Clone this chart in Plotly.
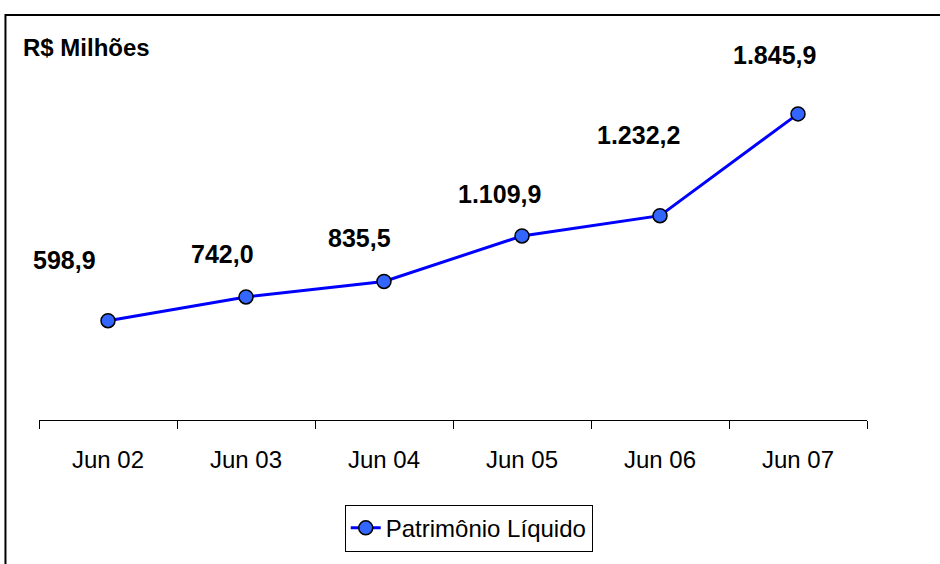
import plotly.graph_objects as go

# Data
periods = ['Jun 02', 'Jun 03', 'Jun 04', 'Jun 05', 'Jun 06', 'Jun 07']
patrimonio = [598.9, 742.0, 835.5, 1109.9, 1232.2, 1845.9]

# label offsets in pixels (labels were placed by hand in the original)
label_dx = [-44, -24, -25, -23, -22, -24]
label_dy = [61, 43, 43, 42, 81, 59]


def fmt_br(v):
    # 1,845.9 -> 1.845,9
    return f"{v:,.1f}".replace(',', '_').replace('.', ',').replace('_', '.')


font_main = 'Liberation Sans, Arial, sans-serif'

fig = go.Figure()

fig.add_trace(go.Scatter(
    x=periods, y=patrimonio, mode='lines+markers', name='Patrimônio Líquido',
    line=dict(color='#0000FF', width=3),
    marker=dict(size=14, color='#3366FF', line=dict(color='black', width=1.5)),
))

for p, v, dx, dy in zip(periods, patrimonio, label_dx, label_dy):
    fig.add_annotation(x=p, y=v, text='<b>' + fmt_br(v) + '</b>', showarrow=False,
                       xshift=dx, yshift=dy,
                       font=dict(family=font_main, size=25, color='black'))

fig.add_annotation(xref='paper', yref='paper', x=-0.022, y=0.935, xanchor='left', yanchor='middle',
                   text='<b>R$ Milhões</b>', showarrow=False,
                   font=dict(family=font_main, size=24, color='black'))

# chart frame (right and bottom edges fall outside the picture)
fig.add_shape(type='rect', xref='paper', yref='paper', x0=-0.0405, x1=1.3, y0=-0.6, y1=1.0175,
              line=dict(color='black', width=2), fillcolor='rgba(0,0,0,0)', layer='above')

fig.update_xaxes(
    range=[-0.5, len(periods) - 0.5],
    showline=True, linecolor='black', linewidth=1,
    ticks='outside', tickson='boundaries', ticklen=8, tickcolor='black',
    showgrid=False, ticklabelstandoff=18,
    tickfont=dict(family=font_main, size=24, color='black'),
)
fig.update_yaxes(range=[0, 2400], visible=False, showgrid=False)

fig.update_layout(
    width=940, height=564,
    margin=dict(l=39, r=73, t=22, b=142),
    plot_bgcolor='white', paper_bgcolor='white',
    showlegend=True,
    legend=dict(orientation='h', x=0.519, xanchor='center', y=-0.213, yanchor='top',
                bordercolor='black', borderwidth=1,
                font=dict(family=font_main, size=24, color='black')),
)

fig.write_html('out.html', config={'displayModeBar': False},
               post_script="document.body.style.margin='0';")
